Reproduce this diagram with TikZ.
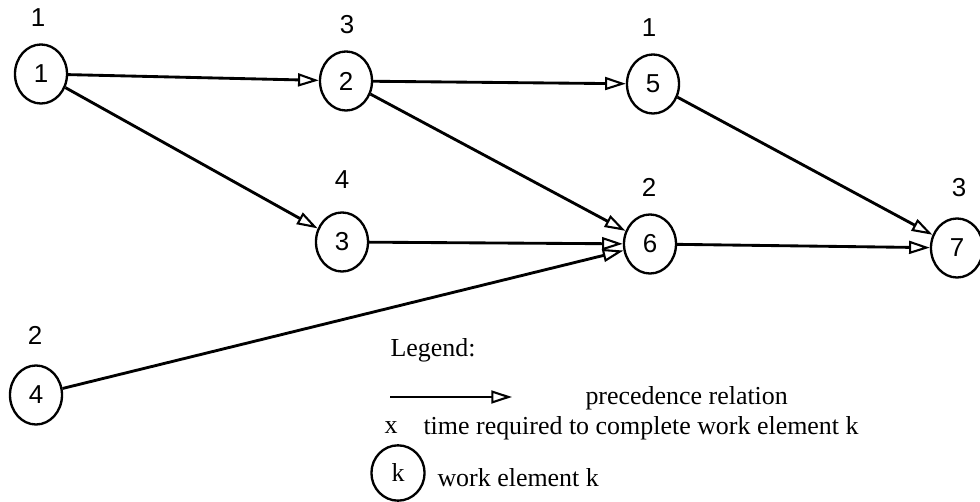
\documentclass[tikz,border=0pt]{standalone}
\usepackage{fontspec}
\setmainfont{Liberation Serif}
\newfontfamily\numfont{Liberation Sans}
\usetikzlibrary{arrows.meta,shapes.geometric}

\begin{document}
\begin{tikzpicture}[x=0.01355cm, y=-0.01355cm,
    worknode/.style={ellipse, draw, line width=0.9pt, minimum width=0.705cm, minimum height=0.8cm, inner sep=0pt, font=\numfont},
    weightlabel/.style={inner sep=0pt, font=\numfont},
    legendtext/.style={anchor=west, inner sep=0pt},
    prec/.style={-{Triangle[open, length=8pt, width=5pt, line width=0.8pt]}, line width=1.1pt}
]
    \useasboundingbox (0,0) rectangle (980,502);

    % Work elements
    \node[worknode] (n1) at (41,74) {1};
    \node[worknode] (n2) at (346,81) {2};
    \node[worknode] (n5) at (653,84) {5};
    \node[worknode] (n3) at (342,242) {3};
    \node[worknode] (n6) at (650,244) {6};
    \node[worknode] (n7) at (957,248) {7};
    \node[worknode] (n4) at (36,395) {4};

    % Times
    \node[weightlabel] (w1) at (38,18) {1};
    \node[weightlabel] (w2) at (347,25) {3};
    \node[weightlabel] (w5) at (649,28) {1};
    \node[weightlabel] (w3) at (342,180) {4};
    \node[weightlabel] (w6) at (649,187) {2};
    \node[weightlabel] (w7) at (959,188) {3};
    \node[weightlabel] (w4) at (35,335) {2};

    % Precedence relations
    \foreach \a/\b in {n1/n2,n1/n3,n2/n5,n2/n6,n3/n6,n4/n6,n5/n7,n6/n7} \draw[prec] (\a) -- (\b);

    % Legend
    \node[legendtext] (leg) at (390,350) {Legend:};
    \coordinate (la) at (390,397);
    \coordinate (lb) at (512,397);
    \draw[prec] (la) -- (lb);
    \node[legendtext] (lprec) at (585,398) {precedence relation};
    \node[inner sep=0pt] (lx) at (391,428) {x};
    \node[legendtext] (ltime) at (423,428) {time required to complete work element k};
    \node[worknode, minimum height=0.75cm, minimum width=0.72cm, font=\rmfamily] (lk) at (398,473) {k};
    \node[legendtext] (lwork) at (437,478) {work element k};
\end{tikzpicture}
\end{document}
